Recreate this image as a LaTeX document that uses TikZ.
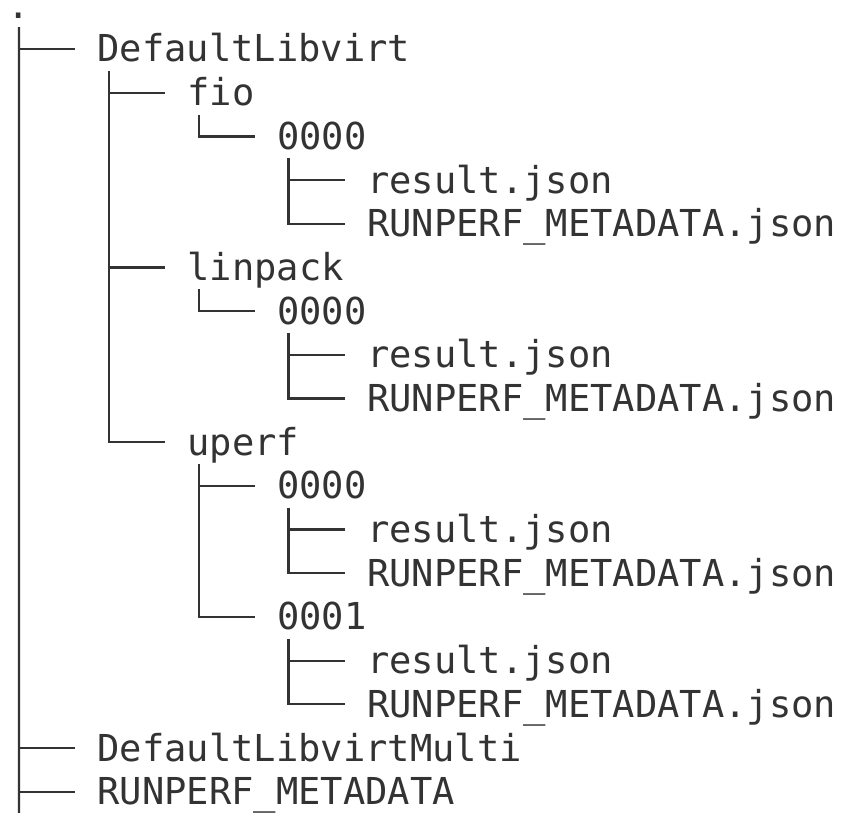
\documentclass[tikz,border=0pt]{standalone}
\usepackage{fontspec}
\newfontfamily\treefont{DejaVu Sans Mono}
\definecolor{ink}{HTML}{333333}
\tikzset{
  tnode/.style={anchor=base west, inner sep=0pt, outer sep=0pt,
    text height=34.85bp, text depth=8.85bp, text=ink,
    font=\treefont\fontsize{37.1bp}{43.69bp}\selectfont},
  rootnode/.style={tnode, text height=8bp},
  conn/.style={draw=ink, line width=2.3bp}
}
\begin{document}
\begin{tikzpicture}[x=1bp,y=-1bp]
\path[use as bounding box] (0,0) rectangle (841,813);
\fill[white] (0,0) rectangle (841,813);
\clip (0,0) rectangle (841,813);
\node[rootnode] (root) at (7.77,18.30) {.};
\node[tnode] (n1)  at (97.60,61.99)  {DefaultLibvirt};
\node[tnode] (n2)  at (187.43,105.68) {fio};
\node[tnode] (n3)  at (277.25,149.37) {0000};
\node[tnode] (n4)  at (367.08,193.06) {result.json};
\node[tnode] (n5)  at (367.08,236.75) {RUNPERF\_METADATA.json};
\node[tnode] (n6)  at (187.43,280.44) {linpack};
\node[tnode] (n7)  at (277.25,324.13) {0000};
\node[tnode] (n8)  at (367.08,367.82) {result.json};
\node[tnode] (n9)  at (367.08,411.51) {RUNPERF\_METADATA.json};
\node[tnode] (n10) at (187.43,455.20) {uperf};
\node[tnode] (n11) at (277.25,498.89) {0000};
\node[tnode] (n12) at (367.08,542.58) {result.json};
\node[tnode] (n13) at (367.08,586.27) {RUNPERF\_METADATA.json};
\node[tnode] (n14) at (277.25,629.96) {0001};
\node[tnode] (n15) at (367.08,673.65) {result.json};
\node[tnode] (n16) at (367.08,717.34) {RUNPERF\_METADATA.json};
\node[tnode] (n17) at (97.60,761.03) {DefaultLibvirtMulti};
\node[tnode] (n18) at (97.60,804.72) {RUNPERF\_METADATA};
\coordinate (trunkend) at (19,820);
\draw[conn] ([xshift=11.23bp]root.south west) -- (trunkend);
\foreach \p/\c in {root/n1, root/n17, root/n18, n1/n2, n1/n6, n1/n10,
  n2/n3, n3/n4, n3/n5, n6/n7, n7/n8, n7/n9, n10/n11, n10/n14,
  n11/n12, n11/n13, n14/n15, n14/n16}
  \draw[conn] ([xshift=11.23bp]\p.south west) |- ([xshift=-22.46bp]\c.west);
\end{tikzpicture}
\end{document}
